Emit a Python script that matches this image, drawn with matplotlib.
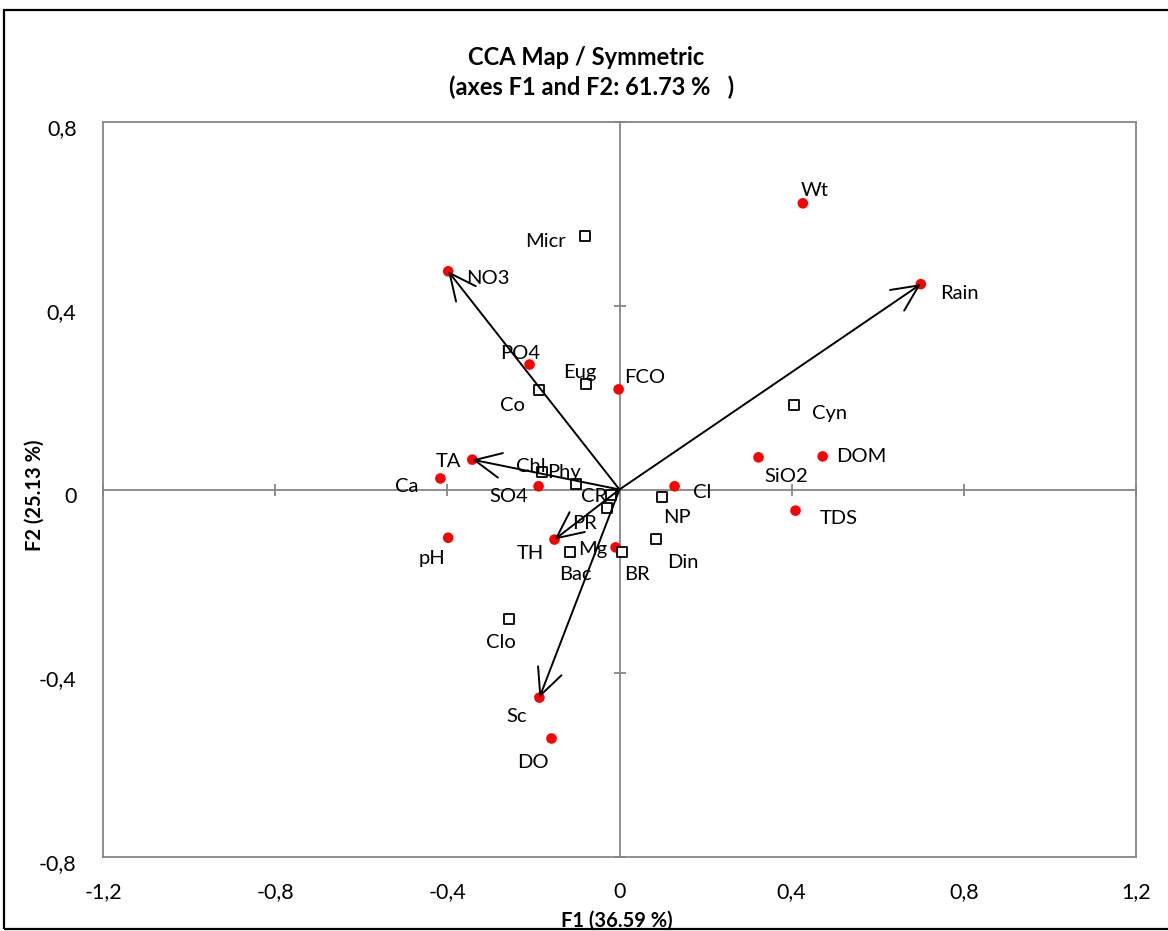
import matplotlib
matplotlib.use("Agg")
import matplotlib.pyplot as plt
from matplotlib.patches import Rectangle
from matplotlib.transforms import ScaledTranslation

plt.rcParams['font.family'] = ['Lato', 'DejaVu Sans']

# ---------------- data ----------------
var_names = ["Wt", "Rain", "NO3", "PO4", "FCO", "TA", "Ca", "SO4", "Cl", "SiO2",
             "DOM", "TDS", "pH", "TH", "Mg", "Sc", "DO"]
var_f1 = [0.426, 0.700, -0.398, -0.209, -0.002, -0.342, -0.416, -0.188, 0.128, 0.323,
          0.472, 0.409, -0.398, -0.151, -0.009, -0.186, -0.158]
var_f2 = [0.623, 0.447, 0.475, 0.272, 0.218, 0.065, 0.024, 0.007, 0.007, 0.070,
          0.072, -0.046, -0.105, -0.109, -0.126, -0.453, -0.542]

sp_names = ["Micr", "Eug", "Co", "Cyn", "Chl", "Phy", "CR", "PR", "NP", "Din",
            "Bac", "BR", "Clo"]
sp_f1 = [-0.079, -0.077, -0.188, 0.405, -0.179, -0.102, -0.019, -0.028, 0.098, 0.084,
         -0.116, 0.005, -0.256]
sp_f2 = [0.551, 0.229, 0.216, 0.183, 0.039, 0.013, -0.011, -0.041, -0.017, -0.107,
         -0.135, -0.135, -0.281]

arrow_vars = ["TA", "NO3", "Rain", "TH", "Sc"]

xticks = [-1.2, -0.8, -0.4, 0, 0.4, 0.8, 1.2]
xtick_labels = ["-1,2", "-0,8", "-0,4", "0", "0,4", "0,8", "1,2"]
yticks = [-0.8, -0.4, 0, 0.4, 0.8]
ytick_labels = ["-0,8", "-0,4", "0", "0,4", "0,8"]

title_line1 = "CCA Map / Symmetric"
title_line2 = "(axes F1 and F2: 61.73 %   )"
xlabel = "F1 (36.59 %)"
ylabel = "F2 (25.13 %)"

# label offsets in pixels (style / placement)
label_offsets = {
    "Wt": (12, 13), "Rain": (39, -9), "NO3": (40, -7), "Micr": (-40, -5),
    "PO4": (-9, 11), "Eug": (-7, 12), "FCO": (26, 12), "Co": (-26, -15),
    "Cyn": (36, -8), "DOM": (39, 0), "SiO2": (28, -19), "TA": (-24, -2),
    "Chl": (-12, 5), "Phy": (-12, 11), "Ca": (-34, -8), "SO4": (-30, -10),
    "CR": (-17, -2), "Cl": (28, -6), "NP": (15, -20), "PR": (-23, -15),
    "pH": (-16, -21), "TH": (-24, -14), "Mg": (-23, -2), "Din": (27, -24),
    "Bac": (6, -23), "BR": (15, -23), "Clo": (-8, -24), "Sc": (-23, -19),
    "DO": (-19, -24), "TDS": (43, -8),
}

# ---------------- figure ----------------
W, H = 1168, 931
fig = plt.figure(figsize=(W / 100, H / 100), dpi=100)
fig.patch.set_facecolor("white")

pos = [103 / W, 1 - 857 / H, (1136 - 103) / W, (857 - 122) / H]
ax = fig.add_axes(pos)
ax.set_xlim(-1.2, 1.2)
ax.set_ylim(-0.8, 0.8)
grey = "#868686"
for s in ax.spines.values():
    s.set_color(grey)
    s.set_linewidth(1.3)
ax.set_xticks(xticks)
ax.set_xticklabels(xtick_labels)
ax.set_yticks(yticks)
ax.set_yticklabels(ytick_labels)
ax.tick_params(axis="both", length=0, labelsize=15.5, colors="black")
ax.tick_params(axis="x", pad=18)
ax.tick_params(axis="y", pad=19)
shift = ScaledTranslation(0, -5 / 100, fig.dpi_scale_trans)
for lab in ax.get_yticklabels():
    lab.set_transform(lab.get_transform() + shift)

# overlay axes with spines through the origin
ax2 = fig.add_axes(pos, sharex=ax, sharey=ax)
ax2.patch.set_visible(False)
ax2.spines["top"].set_visible(False)
ax2.spines["right"].set_visible(False)
ax2.spines["left"].set_position(("data", 0))
ax2.spines["bottom"].set_position(("data", 0))
for s in ("left", "bottom"):
    ax2.spines[s].set_color(grey)
    ax2.spines[s].set_linewidth(1.3)
ax2.tick_params(axis="both", direction="inout", length=9, width=1.3, color=grey,
                labelleft=False, labelbottom=False)
ax2.set_zorder(ax.get_zorder() + 1)

# points
ax2.scatter(var_f1, var_f2, s=58, color="#FF0000", edgecolor="none", zorder=4)
ax2.scatter(sp_f1, sp_f2, s=42, marker="s", facecolor="white", edgecolor="black",
            linewidth=1.3, zorder=4)

# arrows
for name in arrow_vars:
    i = var_names.index(name)
    ax2.annotate("", xy=(var_f1[i], var_f2[i]), xytext=(0, 0),
                 arrowprops=dict(arrowstyle="->,head_length=0.95,head_width=0.45",
                                 lw=1.4, color="black", mutation_scale=20,
                                 shrinkA=0, shrinkB=0),
                 zorder=5)

# labels
for names, xs, ys in ((var_names, var_f1, var_f2), (sp_names, sp_f1, sp_f2)):
    for n, x, y in zip(names, xs, ys):
        dx, dy = label_offsets.get(n, (0, 12))
        ax2.annotate(n, xy=(x, y), xytext=(dx, dy), textcoords="offset pixels",
                     ha="center", va="center", fontsize=14.5, zorder=6)

# titles
fig.text(586 / W, 1 - 65 / H, title_line1, ha="center", va="baseline",
         fontsize=17, fontweight="bold")
fig.text(592 / W, 1 - 95 / H, title_line2, ha="center", va="baseline",
         fontsize=17, fontweight="bold")
fig.text(617 / W, 1 - 927 / H, xlabel, ha="center", va="baseline", fontsize=14.5,
         fontweight="bold")
fig.text(35 / W, 1 - 495 / H, ylabel, ha="center", va="center", fontsize=14.5,
         fontweight="bold", rotation=90)

# outer border
fig.patches.append(Rectangle((4 / W, 1 - 929 / H), 1.0, (929 - 10) / H,
                             transform=fig.transFigure, fill=False,
                             edgecolor="black", linewidth=1.6))

fig.savefig("out.png", dpi=100)
